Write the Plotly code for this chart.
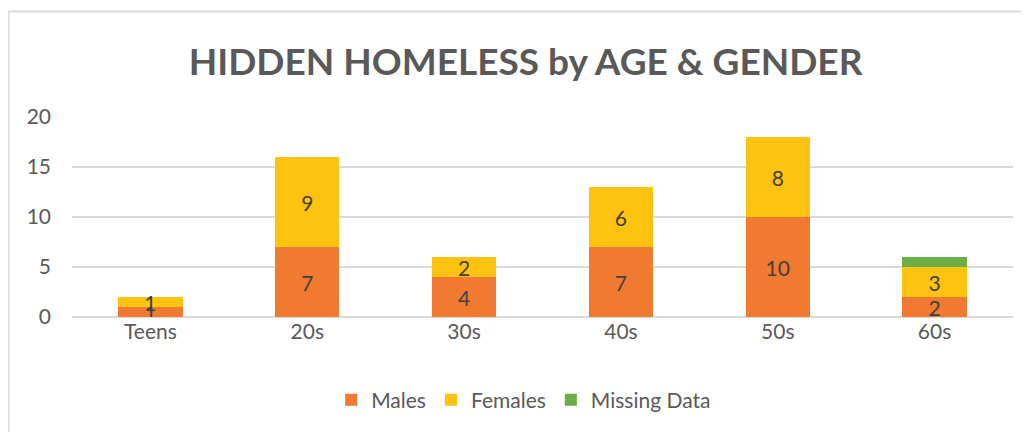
import plotly.graph_objects as go

age_groups = ["Teens", "20s", "30s", "40s", "50s", "60s"]
males = [1, 7, 4, 7, 10, 2]
females = [1, 9, 2, 6, 8, 3]
missing = [0, 0, 0, 0, 0, 1]

FONT = "Lato"
TXT = "#404040"

fig = go.Figure()

# ─── Stacked bars ───────────────────────────
series = [
    ("Males", males, "#F07A2F"),
    ("Females", females, "#FFC20E"),
    ("Missing Data", missing, "#6AAE45"),
]
for name, vals, col in series:
    fig.add_trace(go.Bar(
        x=age_groups, y=vals, name=name,
        marker=dict(color=col, line=dict(width=0)),
        text=[v if v else "" for v in vals] if name != "Missing Data" else None,
        textposition="inside", insidetextanchor="middle", textangle=0,
        textfont=dict(family=FONT, size=21, color=TXT),
        constraintext="none",
        width=0.41,
    ))

# chart border (Excel chart area) - left and top edges only show
fig.add_shape(type="line", xref="paper", yref="paper",
              x0=-0.0675, x1=-0.0675, y0=-0.6, y1=1.527,
              line=dict(color="#D9D9D9", width=2))
fig.add_shape(type="line", xref="paper", yref="paper",
              x0=-0.0675, x1=1.05, y0=1.527, y1=1.527,
              line=dict(color="#D9D9D9", width=2))

# page body has an 8px margin, so margins are shifted by -8
fig.update_layout(
    barmode="stack",
    width=1029, height=432,
    margin=dict(l=64, r=24, t=109, b=123),
    paper_bgcolor="white", plot_bgcolor="white",
    title=dict(text="<b>HIDDEN HOMELESS by AGE & GENDER</b>",
               x=0.503, xanchor="center", y=0.875, yanchor="middle",
               font=dict(family=FONT, size=37, color="#595959")),
    font=dict(family=FONT, size=21, color="#595959"),
    xaxis=dict(showgrid=False, showline=False, ticks="",
               tickfont=dict(size=21, color="#595959")),
    yaxis=dict(range=[0, 20], dtick=5, showgrid=True, gridcolor="#D9D9D9",
               gridwidth=1.5, zeroline=True, zerolinecolor="#D9D9D9",
               zerolinewidth=1.5, ticks="", ticklabelstandoff=20,
               tickfont=dict(size=21, color="#595959")),
    legend=dict(orientation="h", x=0.48, xanchor="center", y=-0.415,
                yanchor="middle", font=dict(size=21, color="#595959"),
                itemwidth=30, traceorder="normal"),
    showlegend=True,
)

fig.write_html("out.html")
